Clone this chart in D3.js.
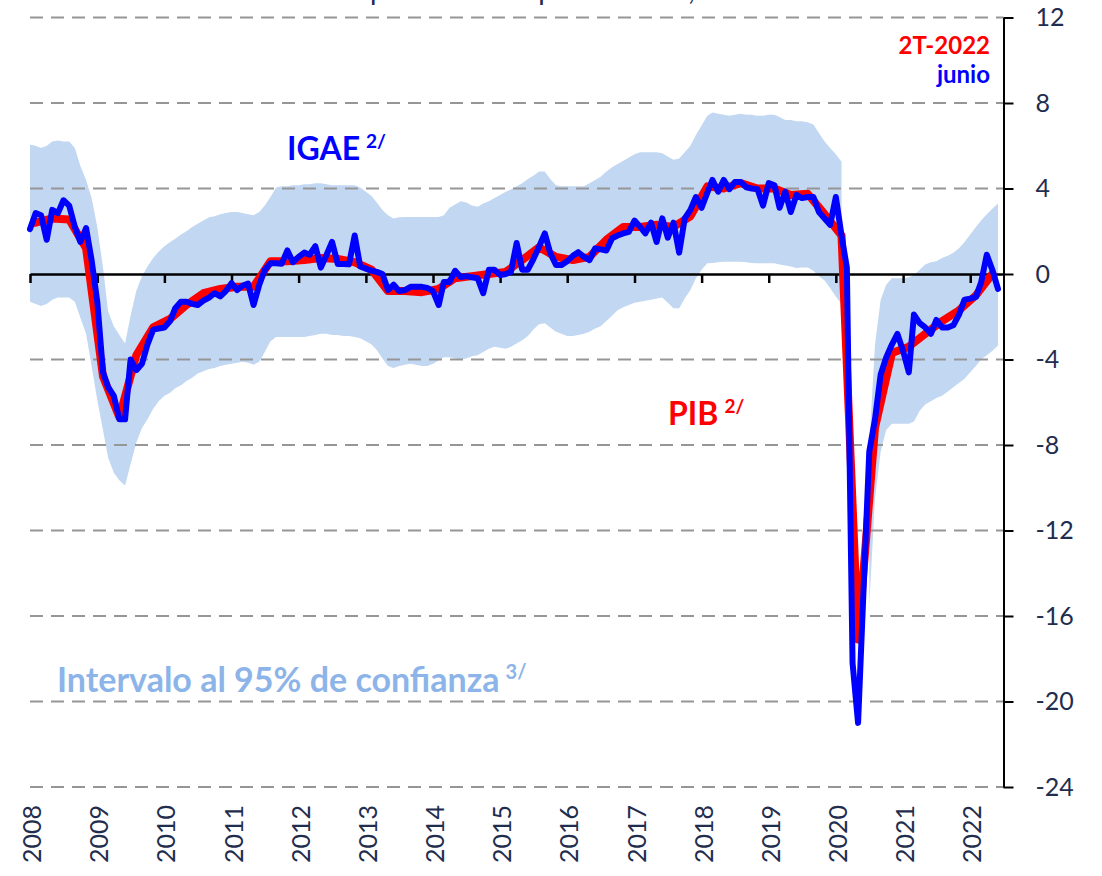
<!DOCTYPE html>
<html>
<head>
<meta charset="utf-8">
<script src="https://cdnjs.cloudflare.com/ajax/libs/d3/7.8.5/d3.min.js"></script>
<style>
  body { margin: 0; background: #fff; }
  text { font-family: Lato, "Open Sans", sans-serif; }
</style>
</head>
<body>
<div id="chart"></div>
<script>
// IGAE, monthly, Jan 2008 - Jun 2022
var igae = [
  2.1, 2.85, 2.75, 1.6, 3.0, 2.85, 3.45, 3.2, 2.2, 1.5, 2.15, 0.65,
  -1.3, -4.6, -5.3, -5.7, -6.8, -6.8, -4.0, -4.5, -4.2, -3.3, -2.6, -2.55,
  -2.5, -2.2, -1.6, -1.3, -1.3, -1.4, -1.45, -1.25, -1.1, -0.9, -1.05, -0.8,
  -0.43, -0.75, -0.55, -0.45, -1.45, -0.5, 0.2, 0.5, 0.5, 0.48, 1.1, 0.55,
  0.8, 1.0, 0.9, 1.3, 0.3, 0.9, 1.5, 0.47, 0.47, 0.45, 1.8, 0.35,
  0.25, 0.15, 0.1, 0.0, -0.75, -0.5, -0.8, -0.75, -0.6, -0.6, -0.6, -0.65,
  -0.8, -1.45, -0.37, -0.37, 0.15, -0.14, -0.1, -0.15, -0.2, -0.9, 0.2, 0.2,
  -0.05, 0.0, 0.1, 1.45, 0.2, 0.2, 0.7, 1.28, 1.9, 0.97, 0.42, 0.42,
  0.6, 0.85, 1.02, 0.8, 0.65, 1.2, 1.15, 1.1, 1.67, 1.8, 1.9, 1.97,
  2.5, 2.2, 1.9, 2.4, 1.5, 2.6, 1.7, 2.4, 1.0, 2.6, 3.0, 3.6,
  3.1, 3.8, 4.4, 3.85, 4.4, 3.97, 4.3, 4.3, 4.06, 4.0, 3.97, 3.2,
  4.25, 4.15, 3.1, 3.85, 2.9, 3.7, 3.55, 3.6, 3.6, 2.9, 2.6, 2.3,
  3.6, 1.8, 0.3, -18.2, -21.0, -14.5, -8.3, -6.8, -4.7, -3.9, -3.3, -2.8,
  -3.6, -4.6, -1.9, -2.3, -2.5, -2.8, -2.15, -2.5, -2.5, -2.4, -1.9, -1.2,
  -1.15, -1.07, -0.4, 0.9, 0.2, -0.7
];

// PIB, quarterly, 1T-2008 - 2T-2022
var pib = [
  2.4, 2.6, 2.55, 1.2,
  -4.8, -6.7, -3.8, -2.5,
  -2.1, -1.45, -0.9, -0.7,
  -0.6, -0.6, 0.6, 0.6,
  0.65, 0.75, 0.7, 0.55,
  0.2, -0.8, -0.8, -0.85,
  -0.7, -0.2, -0.1, 0.0,
  0.1, 0.65, 1.25, 0.8,
  0.65, 0.8, 1.6, 2.2,
  2.2, 2.3, 2.2, 2.7,
  4.1, 4.0, 4.25, 4.0,
  4.0, 3.7, 3.75, 2.8,
  1.8, -17.1, -7.2, -3.7,
  -3.4, -2.8, -2.2, -1.7,
  -1.0, 0.0
];

// 95% interval, monthly (null = no interval)
var bandHigh = [
  6.05, 6.0, 5.9, 6.0, 6.2, 6.25, 6.2, 6.2, 5.9, 5.05, 4.4, 3.55,
  2.2, 0.3, -1.75, -2.45, -2.85, -3.25, -1.95, -0.8, -0.1, 0.35, 0.75, 1.05,
  1.3, 1.5, 1.65, 1.85, 2.0, 2.2, 2.35, 2.5, 2.65, 2.7, 2.8, 2.85,
  2.9, 2.9, 2.85, 2.8, 2.75, 2.9, 3.2, 3.6, 4.05, 4.1, 4.1, 4.15,
  4.15, 4.2, 4.2, 4.25, 4.25, 4.2, 4.15, 4.15, 4.15, 4.15, 4.15, 4.05,
  3.85, 3.65, 3.35, 3.0, 2.75, 2.6, 2.65, 2.67, 2.67, 2.67, 2.67, 2.67,
  2.67, 2.67, 2.75, 3.1, 3.25, 3.4, 3.35, 3.2, 3.15, 3.3, 3.4, 3.55,
  3.7, 3.85, 3.95, 4.1, 4.25, 4.45, 4.6, 4.8, 4.8, 4.45, 4.15, 4.1,
  4.1, 4.1, 4.1, 4.1, 4.25, 4.4, 4.55, 4.8, 5.0, 5.15, 5.3, 5.45,
  5.6, 5.7, 5.7, 5.7, 5.7, 5.65, 5.5, 5.35, 5.4, 5.7, 6.0, 6.5,
  6.95, 7.4, 7.55, 7.5, 7.45, 7.4, 7.45, 7.5, 7.45, 7.45, 7.4, 7.4,
  7.45, 7.45, 7.35, 7.2, 7.2, 7.15, 7.15, 7.1, 7.0, 6.6, 6.2, 5.9,
  5.6, 5.25, null, null, null, null, -8.0, -3.3, -1.2, -0.5, -0.2, -0.2,
  -0.2, -0.15, -0.05, 0.2, 0.45, 0.55, 0.6, 0.75, 0.85, 1.0, 1.2, 1.5,
  1.85, 2.2, 2.5, 2.8, 3.05, 3.3
];
var bandLow = [
  -1.3, -1.4, -1.5, -1.4, -1.2, -1.1, -1.1, -1.1, -1.3, -2.05, -2.8, -4.3,
  -5.9, -7.3, -8.6, -9.3, -9.65, -9.9, -8.9, -7.9, -7.2, -6.8, -6.3, -5.95,
  -5.7, -5.55, -5.35, -5.2, -5.0, -4.85, -4.65, -4.55, -4.45, -4.4, -4.3, -4.25,
  -4.2, -4.15, -4.1, -4.15, -4.25, -4.1, -3.65, -3.15, -2.95, -2.95, -2.95, -2.95,
  -2.95, -2.95, -2.9, -2.85, -2.8, -2.8, -2.85, -2.85, -2.9, -2.9, -2.95, -3.0,
  -3.15, -3.3, -3.55, -3.95, -4.3, -4.4, -4.3, -4.25, -4.2, -4.25, -4.3, -4.3,
  -4.2, -4.05, -3.9, -3.9, -3.95, -4.0, -3.95, -3.85, -3.8, -3.65, -3.5, -3.4,
  -3.45, -3.5, -3.4, -3.25, -3.1, -2.9, -2.6, -2.35, -2.3, -2.5, -2.7, -2.8,
  -2.9, -2.9, -2.85, -2.8, -2.7, -2.55, -2.45, -2.2, -1.95, -1.7, -1.55, -1.45,
  -1.35, -1.3, -1.25, -1.2, -1.15, -1.1, -1.35, -1.6, -1.6, -1.15, -0.75, -0.2,
  0.2, 0.5, 0.52, 0.55, 0.57, 0.57, 0.57, 0.57, 0.55, 0.52, 0.5, 0.5,
  0.5, 0.5, 0.45, 0.4, 0.35, 0.28, 0.3, 0.3, 0.15, -0.1, -0.3, -0.65,
  -1.05, -1.4, null, null, null, null, -15.5, -10.5, -8.3, -7.3, -7.0, -7.0,
  -7.0, -7.0, -6.9, -6.4, -6.1, -5.95, -5.8, -5.7, -5.5, -5.3, -5.1, -4.9,
  -4.6, -4.3, -4.0, -3.8, -3.6, -3.35
];

var yTicks = [-24, -20, -16, -12, -8, -4, 0, 4, 8, 12];
var yearLabels = ["2008", "2009", "2010", "2011", "2012", "2013", "2014", "2015",
                  "2016", "2017", "2018", "2019", "2020", "2021", "2022"];

var width = 1102, height = 876;
var navy = "#1f2d4e";

var svg = d3.select("#chart").append("svg")
    .attr("width", width)
    .attr("height", height);

// scales: months sit on the date axis, axis ends one month after the last point
var x = d3.scaleTime()
    .domain([new Date(2008, 0, 1), new Date(2022, 6, 1)])
    .range([30, 1003.5]);
var y = d3.scaleLinear()
    .domain([-24, 12])
    .range([787, 17.5]);

function month(i) { return new Date(2008, i, 1); }
function quarter(k) { return new Date(2008, 3 * k + 1, 1); }

// title, cut off at the top of the picture
var titleText = "Variación anual en por ciento respecto al año, a. e.";
var title = svg.append("text")
    .attr("y", 0)
    .attr("fill", navy)
    .style("font-size", "28px")
    .text(titleText);
var pOff = title.node().getSubStringLength(0, titleText.indexOf("por"));
title.attr("x", 370 - pOff);

// confidence band
var band = d3.area()
    .defined(function(d, i) { return bandHigh[i] != null && bandLow[i] != null; })
    .x(function(d, i) { return x(month(i)); })
    .y0(function(d, i) { return y(bandLow[i]); })
    .y1(function(d, i) { return y(bandHigh[i]); });

svg.append("path")
    .datum(bandHigh)
    .attr("fill", "#c2d7f2")
    .attr("d", band);

// dashed gridlines
svg.append("g")
    .selectAll("line")
    .data(yTicks.filter(function(d) { return d !== 0; }))
    .enter().append("line")
    .attr("x1", 30)
    .attr("x2", 1003.5)
    .attr("y1", function(d) { return y(d); })
    .attr("y2", function(d) { return y(d); })
    .attr("stroke", "#969696")
    .attr("stroke-width", 2)
    .attr("stroke-dasharray", "13,8");

// zero line with year ticks
var xAxis = svg.append("g")
    .attr("transform", "translate(0," + y(0) + ")")
    .call(d3.axisBottom(x)
        .ticks(d3.timeYear.every(1))
        .tickSize(9)
        .tickSizeOuter(0)
        .tickFormat(""));
xAxis.select(".domain").attr("stroke", "#000").attr("stroke-width", 2.5);
xAxis.selectAll(".tick line").attr("stroke", "#000").attr("stroke-width", 2.5);

// right axis
var yAxis = svg.append("g")
    .attr("transform", "translate(1003.5,0)")
    .call(d3.axisRight(y)
        .tickValues(yTicks)
        .tickSize(10)
        .tickSizeOuter(0)
        .tickPadding(22)
        .tickFormat(d3.format("d")));
yAxis.select(".domain").attr("stroke", "#000").attr("stroke-width", 2);
yAxis.selectAll(".tick line").attr("stroke", "#000").attr("stroke-width", 2);
yAxis.selectAll(".tick text")
    .attr("fill", navy)
    .style("font-size", "25px")
    .style("font-family", "Lato, sans-serif")
    .text(function(d) { return d < 0 ? "-" + Math.abs(d) : d; });

// year labels, rotated
svg.append("g")
    .selectAll("text")
    .data(yearLabels)
    .enter().append("text")
    .attr("transform", function(d) {
        return "translate(" + (x(new Date(+d, 0, 1)) + 11) + ",805) rotate(-90)";
    })
    .attr("text-anchor", "end")
    .attr("fill", navy)
    .style("font-size", "25px")
    .text(function(d) { return d; });

// PIB (red) and IGAE (blue)
var pibLine = d3.line()
    .x(function(d, k) { return x(quarter(k)); })
    .y(function(d) { return y(d); });
svg.append("path")
    .datum(pib)
    .attr("fill", "none")
    .attr("stroke", "#ff0000")
    .attr("stroke-width", 8)
    .attr("stroke-linejoin", "round")
    .attr("stroke-linecap", "round")
    .attr("d", pibLine);

var igaeLine = d3.line()
    .x(function(d, i) { return x(month(i)); })
    .y(function(d) { return y(d); });
svg.append("path")
    .datum(igae)
    .attr("fill", "none")
    .attr("stroke", "#0000ff")
    .attr("stroke-width", 6)
    .attr("stroke-linejoin", "round")
    .attr("stroke-linecap", "round")
    .attr("d", igaeLine);

// labels
function label(txt, sup, xPos, yPos, size, color) {
    var t = svg.append("text")
        .attr("x", xPos)
        .attr("y", yPos)
        .attr("fill", color)
        .style("font-size", size + "px")
        .style("font-weight", "bold");
    t.append("tspan").text(txt);
    if (sup) {
        t.append("tspan")
            .attr("dx", 6)
            .attr("dy", -size * 0.38)
            .style("font-size", Math.round(size * 0.6) + "px")
            .text(sup);
    }
}
label("IGAE", "2/", 287, 160, 32, "#0000ff");
label("PIB", "2/", 668, 425, 32, "#ff0000");
label("Intervalo al 95% de confianza", "3/", 57, 692, 34, "#8db4e8");

svg.append("text")
    .attr("x", 990).attr("y", 54)
    .attr("text-anchor", "end")
    .attr("fill", "#ff0000")
    .style("font-size", "24px")
    .style("font-weight", "bold")
    .text("2T-2022");
svg.append("text")
    .attr("x", 990).attr("y", 83)
    .attr("text-anchor", "end")
    .attr("fill", "#0000ff")
    .style("font-size", "24px")
    .style("font-weight", "bold")
    .text("junio");
</script>
</body>
</html>
